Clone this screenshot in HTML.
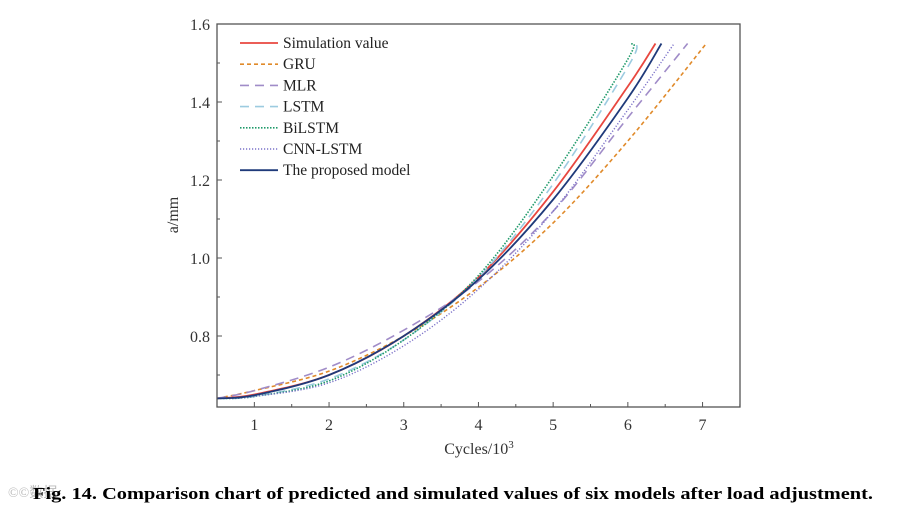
<!DOCTYPE html>
<html><head><meta charset="utf-8"><style>
body{margin:0;background:#fff;width:898px;height:507px;overflow:hidden;font-family:"Liberation Serif",serif}
</style></head><body>
<svg width="898" height="507" id="svg" font-family="Liberation Serif, serif">
<g id="plot"></g>
<text x="8" y="497" font-size="14" fill="#bbb">©©数据</text>
<text x="33" y="499" font-size="17" font-weight="bold" textLength="840" lengthAdjust="spacingAndGlyphs">Fig. 14. Comparison chart of predicted and simulated values of six models after load adjustment.</text>
</svg>
<script>
const xTicks=[1,2,3,4,5,6,7];
const yTicks=[0.8,1.0,1.2,1.4,1.6];
const names=["Simulation value","GRU","MLR","LSTM","BiLSTM","CNN-LSTM","The proposed model"];
const xsBase=[0.5,1,2,3,4,5,6];
const simY=[0.64,0.65,0.70,0.80,0.95,1.17,1.44];
const gruY=[0.64,0.66,0.71,0.80,0.925,1.09,1.30];
const mlrY=[0.64,0.66,0.72,0.815,0.94,1.12,1.36];
const lstmY=[0.64,0.645,0.69,0.79,0.95,1.19,1.49];
const bilstmY=[0.64,0.645,0.685,0.79,0.955,1.21,1.51];
const cnnY=[0.64,0.645,0.68,0.775,0.92,1.12,1.38];
const propY=[0.64,0.648,0.70,0.80,0.945,1.15,1.41];
const endX=[6.37,7.05,6.8,6.12,6.03,6.62,6.45];
const endY=[1.55,1.55,1.55,1.55,1.55,1.55,1.55];
const X=v=>217+(v-0.5)*74.7;
const Y=v=>24+(1.6-v)*390;
const styles=[
 {c:"#e8473f",d:"",w:1.8},{c:"#e08a2a",d:"4 3",w:1.6},{c:"#a08cc8",d:"9 6",w:1.6},
 {c:"#9ccbe0",d:"9 6",w:1.6},{c:"#1f9a6a",d:"1.5 1.5",w:1.6},{c:"#7a70c8",d:"1.2 1.8",w:1.4},{c:"#1f3a7a",d:"",w:1.8}];
const series=[simY,gruY,mlrY,lstmY,bilstmY,cnnY,propY];
const NS="http://www.w3.org/2000/svg";
const g=document.getElementById('plot');
function mk(t,a,p){const e=document.createElementNS(NS,t);for(const k in a)e.setAttribute(k,a[k]);(p||g).appendChild(e);return e;}
function path(pts){let d=`M${pts[0][0]},${pts[0][1]}`;for(let i=0;i<pts.length-1;i++){const p0=pts[i-1]||pts[i],p1=pts[i],p2=pts[i+1],p3=pts[i+2]||p2;
d+=` C${p1[0]+(p2[0]-p0[0])/6},${p1[1]+(p2[1]-p0[1])/6} ${p2[0]-(p3[0]-p1[0])/6},${p2[1]-(p3[1]-p1[1])/6} ${p2[0]},${p2[1]}`;}return d;}
series.forEach((s,i)=>{
 const xs=xsBase.filter(x=>x<endX[i]);const pts=xs.map((x,j)=>[X(x),Y(s[j])]);pts.push([X(endX[i]),Y(endY[i])]);
 const e=mk('path',{d:path(pts),fill:"none",stroke:styles[i].c,"stroke-width":styles[i].w,"stroke-dasharray":styles[i].d});
 
 
});
const fr=mk('rect',{x:217,y:24,width:523,height:383,fill:"none",stroke:"#555","stroke-width":1.3});


for(let v=0.5;v<=7.5;v+=0.5){const x=X(v);const maj=Number.isInteger(v);mk('line',{x1:x,x2:x,y1:407,y2:maj?402:404,stroke:"#555"});}
xTicks.forEach(v=>{const t=mk('text',{x:X(v),y:430,"font-size":16,"text-anchor":"middle",fill:"#333"});t.textContent=v;
 
 });
for(let v=0.7;v<=1.601;v+=0.1){const y=Y(v);const maj=Math.round(v*10)%2===0;mk('line',{x1:217,x2:maj?222:220,y1:y,y2:y,stroke:"#555"});}
yTicks.forEach(v=>{const t=mk('text',{x:210,y:Y(v)+6,"font-size":16,"text-anchor":"end",fill:"#333"});t.textContent=v.toFixed(1);
 
 });
const xt=mk('text',{x:479,y:454,"font-size":16,"text-anchor":"middle",fill:"#333"});xt.innerHTML='Cycles/10<tspan dy="-6" font-size="11">3</tspan>';


const yt=mk('text',{x:0,y:0,"font-size":16,"text-anchor":"middle",fill:"#333",transform:"translate(178,215) rotate(-90)"});yt.textContent='a/mm';


names.forEach((n,i)=>{const y=43+i*21.2;
 const lg=mk('g',{});
 
 
 mk('line',{x1:240,x2:278,y1:y,y2:y,stroke:styles[i].c,"stroke-width":styles[i].w,"stroke-dasharray":styles[i].d},lg);
 const t=mk('text',{x:283,y:y+5,"font-size":15.5,fill:"#222"},lg);t.textContent=n;});
</script>
</body></html>
